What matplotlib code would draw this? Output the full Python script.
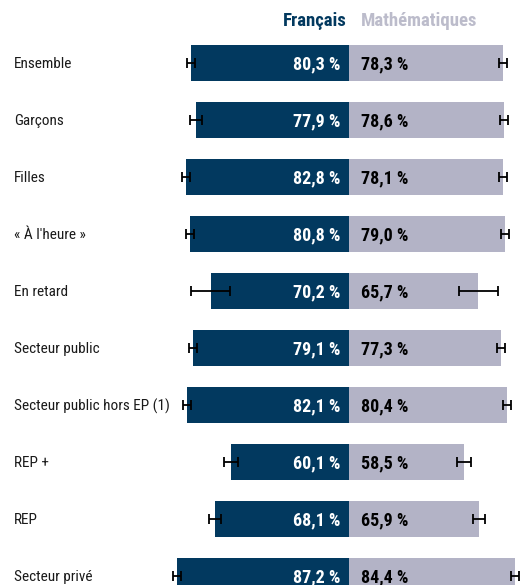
import matplotlib
matplotlib.use('Agg')
import matplotlib.pyplot as plt
from matplotlib import font_manager

# police étroite, la première disponible
noms = {f.name for f in font_manager.fontManager.ttflist}
police = next((p for p in ['Roboto Condensed', 'Archivo Narrow', 'Barlow Condensed',
                           'Liberation Sans Narrow', 'Roboto'] if p in noms), 'DejaVu Sans')
plt.rcParams['font.family'] = [police, 'DejaVu Sans']

categories = ['Ensemble', 'Garçons', 'Filles', '« À l\'heure »', 'En retard',
              'Secteur public', 'Secteur public hors EP (1)', 'REP +', 'REP',
              'Secteur privé']
francais = [80.3, 77.9, 82.8, 80.8, 70.2, 79.1, 82.1, 60.1, 68.1, 87.2]
maths = [78.3, 78.6, 78.1, 79.0, 65.7, 77.3, 80.4, 58.5, 65.9, 84.4]
# demi-largeur des intervalles de confiance
err_fr = [2.0, 3.0, 2.2, 2.0, 10.0, 2.0, 2.0, 3.5, 3.0, 2.0]
err_ma = [2.0, 2.2, 2.0, 2.0, 10.0, 2.0, 2.0, 3.5, 3.2, 2.0]

bleu = '#02395f'
gris = '#b3b3c6'

fig = plt.figure(figsize=(5.21, 5.85), dpi=100)
ax = fig.add_axes([0, 0, 1, 1])

y = list(range(len(categories)))
ax.barh(y, [-v for v in francais], height=0.62, color=bleu, left=0)
ax.barh(y, maths, height=0.62, color=gris, left=0)

ax.errorbar([-v for v in francais], y, xerr=err_fr, fmt='none', ecolor='black',
            elinewidth=1.3, capsize=3.5, capthick=1.3)
ax.errorbar(maths, y, xerr=err_ma, fmt='none', ecolor='black',
            elinewidth=1.3, capsize=3.5, capthick=1.3)

for i, cat in enumerate(categories):
    ax.text(-170, i + 0.02, cat, ha='left', va='center', fontsize=11, color='#1a1a1a')
    ax.text(-4.5, i + 0.02, f'{francais[i]:.1f} %'.replace('.', ','), ha='right',
            va='center', fontsize=13, fontweight='bold', color='white')
    ax.text(6, i + 0.02, f'{maths[i]:.1f} %'.replace('.', ','), ha='left',
            va='center', fontsize=13, fontweight='bold', color='black')

ax.text(-1, -0.74, 'Français', ha='right', va='center', fontsize=13.5,
        fontweight='bold', color=bleu)
ax.text(6, -0.74, 'Mathématiques', ha='left', va='center', fontsize=13.5,
        fontweight='bold', color='#bcbccb')

ax.set_xlim(-177.2, 87.3)
ax.set_ylim(9.158, -1.105)
ax.axis('off')

fig.savefig('out.png', dpi=100)
